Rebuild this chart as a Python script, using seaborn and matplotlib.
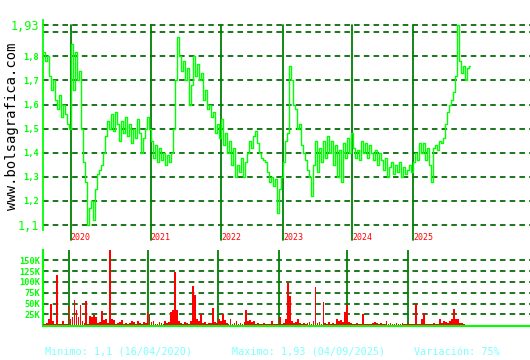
import matplotlib
matplotlib.use("Agg")
import matplotlib.pyplot as plt
import seaborn as sns
import numpy as np
import pandas as pd

# ---------------- data ----------------
price = [
    1.82, 1.78, 1.80, 1.72, 1.66, 1.70, 1.62, 1.58, 1.64, 1.55,
    1.60, 1.56, 1.52, 1.50, 1.85, 1.66, 1.82, 1.70, 1.74, 1.50,
    1.36, 1.28, 1.10, 1.17, 1.20, 1.12, 1.25, 1.31, 1.33, 1.35,
    1.40, 1.47, 1.53, 1.50, 1.56, 1.49, 1.57, 1.52, 1.45, 1.53,
    1.48, 1.55, 1.47, 1.52, 1.44, 1.50, 1.46, 1.54, 1.48, 1.40,
    1.46, 1.50, 1.55, 1.50, 1.45, 1.38, 1.43, 1.36, 1.42, 1.37,
    1.40, 1.35, 1.39, 1.36, 1.40, 1.50, 1.70, 1.88, 1.80, 1.74,
    1.78, 1.70, 1.75, 1.60, 1.68, 1.80, 1.72, 1.77, 1.70, 1.73,
    1.62, 1.66, 1.58, 1.60, 1.55, 1.57, 1.48, 1.52, 1.46, 1.54,
    1.43, 1.48, 1.40, 1.45, 1.35, 1.42, 1.30, 1.35, 1.32, 1.38,
    1.30, 1.36, 1.40, 1.45, 1.42, 1.47, 1.49, 1.44, 1.40, 1.38,
    1.37, 1.36, 1.32, 1.28, 1.30, 1.26, 1.29, 1.15, 1.25, 1.30,
    1.36, 1.45, 1.48, 1.76, 1.70, 1.60, 1.58, 1.50, 1.52, 1.43,
    1.40, 1.37, 1.33, 1.30, 1.22, 1.35, 1.45, 1.32, 1.42, 1.36,
    1.45, 1.38, 1.47, 1.40, 1.45, 1.35, 1.43, 1.30, 1.41, 1.28,
    1.44, 1.38, 1.46, 1.40, 1.48, 1.42, 1.38, 1.41, 1.37, 1.45,
    1.40, 1.44, 1.38, 1.43, 1.40, 1.37, 1.41, 1.35, 1.40, 1.37,
    1.33, 1.38, 1.30, 1.34, 1.36, 1.31, 1.35, 1.32, 1.36, 1.30,
    1.34, 1.31, 1.33, 1.35, 1.32, 1.36, 1.40, 1.37, 1.44, 1.40,
    1.44, 1.37, 1.42, 1.35, 1.28, 1.42, 1.43, 1.41, 1.45, 1.44,
    1.46, 1.52, 1.57, 1.60, 1.62, 1.65, 1.72, 1.93, 1.78, 1.73,
    1.76, 1.70, 1.75, 1.76,
]

volume_k = [
    2, 3, 5, 14, 50, 10, 3, 116, 3, 2,
    9, 3, 2, 44, 15, 20, 58, 36, 20, 47,
    10, 5, 56, 4, 22, 20, 23, 20, 5, 8,
    33, 12, 14, 5, 175, 15, 12, 4, 5, 8,
    13, 3, 5, 4, 6, 10, 8, 4, 9, 6,
    3, 8, 5, 31, 25, 8, 10, 4, 3, 8,
    6, 3, 10, 5, 8, 30, 35, 122, 35, 10,
    6, 4, 8, 5, 3, 9, 91, 70, 15, 10,
    25, 5, 8, 4, 6, 5, 40, 8, 5, 15,
    10, 25, 12, 5, 4, 15, 3, 5, 10, 4,
    6, 3, 8, 35, 10, 12, 8, 10, 4, 6,
    3, 4, 5, 2, 3, 4, 10, 3, 3, 4,
    20, 3, 5, 15, 97, 68, 10, 5, 8, 15,
    5, 4, 6, 3, 5, 8, 4, 10, 89, 6,
    8, 4, 54, 5, 3, 8, 4, 5, 3, 15,
    10, 12, 8, 30, 47, 8, 5, 4, 3, 5,
    3, 2, 25, 3, 4, 2, 3, 5, 7, 6,
    4, 5, 3, 4, 10, 3, 5, 4, 3, 6,
    4, 3, 5, 4, 3, 6, 2, 3, 4, 50,
    3, 4, 15, 28, 4, 3, 2, 3, 5, 4,
    4, 15, 6, 10, 8, 5, 10, 15, 37, 14,
    15, 5, 5, 4,
]

years = ["2020", "2021", "2022", "2023", "2024", "2025"]
year_start_idx = [13.35, 53.25, 88.65, 119.65, 154.15, 184.65]

price_ticks = [1.1, 1.2, 1.3, 1.4, 1.5, 1.6, 1.7, 1.8, 1.9, 1.93]
price_tick_labels = ["1,1", "1,2", "1,3", "1,4", "1,5", "1,6", "1,7", "1,8", "", "1,93"]
vol_ticks = [25, 50, 75, 100, 125, 150]
vol_tick_labels = ["25K", "50K", "75K", "100K", "125K", "150K"]

footer_min = "Minimo: 1,1 (16/04/2020)"
footer_max = "Maximo: 1,93 (04/09/2025)"
footer_var = "Variación: 75%"
watermark = "www.bolsagrafica.com"

# ---------------- styling ----------------
sns.set_style("white")
plt.rcParams["font.family"] = ["DejaVu Sans Mono", "DejaVu Sans"]

LIME = "#00ff00"
GRID = "#006600"
YEARLINE = "#008000"
W, H = 530, 360

df = pd.DataFrame({"idx": np.arange(len(price)), "price": price, "vol": volume_k})

fig = plt.figure(figsize=(W / 100, H / 100), dpi=100, facecolor="white")
ax = fig.add_axes([43 / W, 1 - 230 / H, 487 / W, 210 / H])
axv = fig.add_axes([43 / W, 1 - 326 / H, 487 / W, 76 / H])

# ----- price panel -----
ax.set_xlim(-0.5, 243)
ax.set_ylim(1.1 - 5 / 241, 1.93 + 5 / 241)
ax.set_yticks(price_ticks, labels=price_tick_labels)
ax.set_xticks([])
ax.grid(axis="y", color=GRID, linestyle=(0, (3.2, 2.4)), linewidth=1.25)
ax.grid(axis="x", visible=False)
ax.set_axisbelow(True)
for yr, pos in zip(years, year_start_idx):
    ax.axvline(pos, ymin=-0.048, ymax=(230 - 25) / 210, color=YEARLINE,
               lw=1.3, clip_on=False, zorder=1)
    ax.text(pos, -0.035, yr, transform=ax.get_xaxis_transform(), color="red",
            fontsize=6, ha="left", va="center")
sns.lineplot(data=df, x="idx", y="price", ax=ax, color=LIME, linewidth=1.0,
             drawstyle="steps-mid", zorder=3)
ax.set_xlabel("")
ax.set_ylabel("")
for s in ["top", "right", "bottom"]:
    ax.spines[s].set_visible(False)
ax.spines["left"].set_color(LIME)
ax.spines["left"].set_linewidth(1.3)
ax.tick_params(axis="y", length=0, pad=3, colors=LIME)
for lab in ax.get_yticklabels():
    if lab.get_text() in ("1,93", "1,1"):
        lab.set_fontsize(8.5)
    else:
        lab.set_fontsize(6.3)
        lab.set_fontweight("bold")

# ----- volume panel -----
axv.set_xlim(0.04, 246.6)
axv.set_ylim(-1.6, 173.8)
sns.barplot(data=df, x="idx", y="vol", ax=axv, native_scale=True, color="#ff0000",
            saturation=1, width=0.9, linewidth=0, edgecolor="none",
            errorbar=None, zorder=3)
for p in axv.patches:
    p.set_antialiased(False)
    p.set_facecolor("#ff0000")
    p.set_alpha(1)
axv.set_yticks(vol_ticks, labels=vol_tick_labels)
axv.set_xticks([])
axv.grid(axis="y", color=GRID, linestyle=(0, (3.2, 2.4)), linewidth=1.25)
axv.grid(axis="x", visible=False)
axv.set_axisbelow(True)
for pos in year_start_idx:
    axv.axvline(pos, color=YEARLINE, lw=1.3, zorder=1)
axv.set_xlabel("")
axv.set_ylabel("")
for s in ["top", "right"]:
    axv.spines[s].set_visible(False)
for s in ["left", "bottom"]:
    axv.spines[s].set_color(LIME)
    axv.spines[s].set_linewidth(1.5)
axv.tick_params(axis="y", length=0, pad=2, colors=LIME)
for lab in axv.get_yticklabels():
    lab.set_fontsize(6.2)
    lab.set_fontweight("bold")

# ----- texts -----
fig.text(12 / W, 1 - 126 / H, watermark, rotation=90, fontsize=10,
         color="black", ha="center", va="center")
FOOT = "#7fffff"
fig.text(45 / W, 1 - 352 / H, footer_min, color=FOOT, fontsize=7.3, ha="left", va="center")
fig.text(232 / W, 1 - 352 / H, footer_max, color=FOOT, fontsize=7.3, ha="left", va="center")
fig.text(414 / W, 1 - 352 / H, footer_var, color=FOOT, fontsize=7.3, ha="left", va="center")

fig.savefig("out.png", dpi=100, facecolor="white")
